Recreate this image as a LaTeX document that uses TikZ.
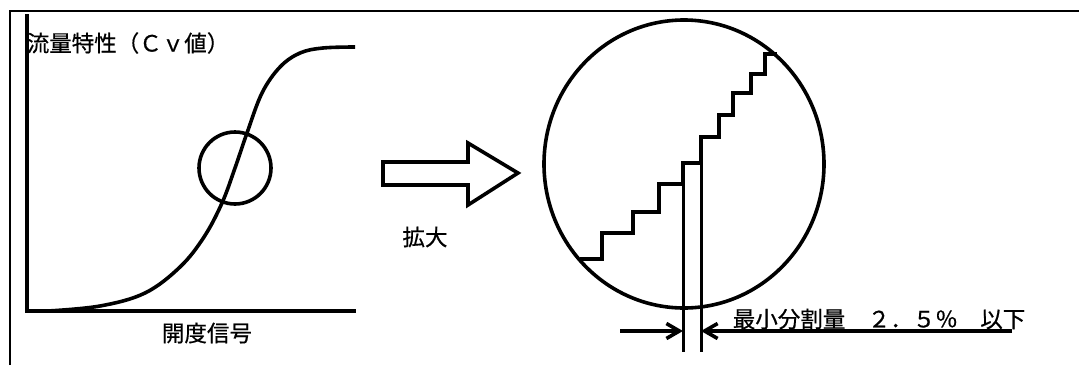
\documentclass[tikz,border=0pt]{standalone}
\usepackage{fontspec}
\newfontfamily\jpfont[FakeBold=0.6]{Noto Sans CJK JP}
\usetikzlibrary{arrows.meta}
\begin{document}
\begin{tikzpicture}[x=1pt,y=-1pt,line width=3.6pt,
  jptext/.style={font=\jpfont\fontsize{22.5}{26}\selectfont,inner sep=0pt},
  dimtip/.style={-{Straight Barb[length=13pt,width=15pt]}}]
\useasboundingbox (0,0) rectangle (1079,365);
% Frame
\draw[line width=2.8pt] (10,365) -- (10,11) -- (1079,11);
% Axes
\draw[line width=4pt] (27,14) -- (27,311) -- (356,311);
\node[jptext,anchor=west] (cv) at (25,43) {流量特性（Ｃｖ値）};
\node[jptext] (signal) at (207,333) {開度信号};
% Curve
\draw plot[smooth,tension=0.6] coordinates {(48,311) (100,306) (145,293) (180,267) (204,237)
  (222,203) (235,168) (247,133) (262,93) (280,67) (300,53) (323,48) (355,47)};
\draw (235,168) circle[radius=36pt];
% Hollow arrow
\draw[line join=miter] (383,162) -- (468,162) -- (468,143) -- (518,173) -- (468,205)
  -- (468,185) -- (383,185) -- cycle;
\node[jptext] (zoomtxt) at (425,237) {拡大};
% Magnified view
\draw (684,164) ellipse[x radius=140pt,y radius=144pt];
\draw (580,259) -- (602,259) -- (602,233) -- (633,233) -- (633,212) -- (659,212) -- (659,184)
  -- (683,184) -- (683,163) -- (701,163) -- (701,137) -- (719,137) -- (719,115) -- (733,115)
  -- (733,93) -- (751,93) -- (751,74) -- (765,74) -- (765,54) -- (777,54);
% Extension lines
\draw[line width=3pt] (683,163) -- (683,352);
\draw[line width=3pt] (701,137) -- (701,352);
% Dimension
\coordinate (dimL) at (620,331);
\coordinate (dimR) at (1012,331);
\coordinate (extL) at (683,331);
\coordinate (extR) at (701,331);
\draw[dimtip] (dimL) -- (extL);
\draw[dimtip] (dimR) -- (extR);
\node[jptext,anchor=west] (minstep) at (731,319) {最小分割量　２．５％　以下};
\end{tikzpicture}
\end{document}
